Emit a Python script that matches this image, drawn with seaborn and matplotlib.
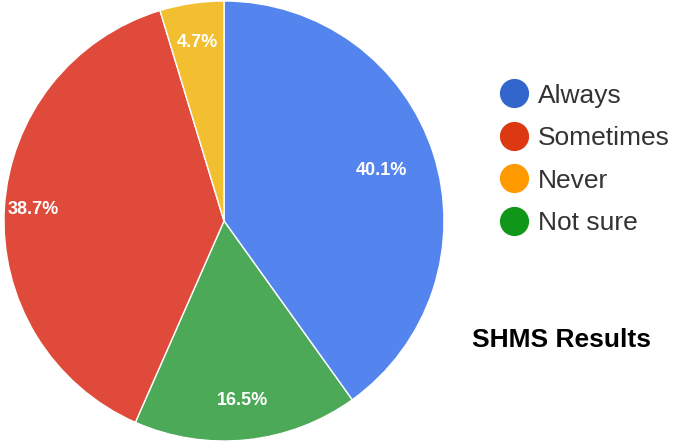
import numpy as np
import matplotlib
matplotlib.use("Agg")
import matplotlib.pyplot as plt
from matplotlib.lines import Line2D
import seaborn as sns

sns.set_theme(style="white")
plt.rcParams['font.family'] = ['Liberation Sans', 'DejaVu Sans']

# Data (clockwise from 12 o'clock)
slice_labels = ["Always", "Not sure", "Sometimes", "Never"]
slice_values = [40.1, 16.5, 38.7, 4.7]
slice_colors = ["#5484ED", "#4BA957", "#E04A3B", "#F1BF2F"]

legend_labels = ["Always", "Sometimes", "Never", "Not sure"]
legend_colors = ["#3366CC", "#DC3912", "#FF9900", "#109618"]

title_text = "SHMS Results"

# label radial distance per slice (style)
label_dist = [0.75, 0.82, 0.87, 0.82]

fig = plt.figure(figsize=(6.8, 4.42), dpi=100)
ax = fig.add_axes([4 / 680, 0.0, 440 / 680, 1.0])

wedges, texts, autotexts = ax.pie(
    slice_values, colors=slice_colors, startangle=90, counterclock=False,
    radius=1.0, autopct=lambda p: f"{p:.1f}%", pctdistance=0.8,
    wedgeprops=dict(edgecolor="white", linewidth=1.0),
    textprops=dict(color="white", fontsize=13, fontweight="bold"))

for w, t, d in zip(wedges, autotexts, label_dist):
    ang = np.deg2rad((w.theta1 + w.theta2) / 2)
    t.set_position((d * np.cos(ang), d * np.sin(ang)))
    t.set_ha("center")
    t.set_va("center")

ax.set_xlim(-1.0, 1.0)
ax.set_ylim(-1.0045, 1.0045)
ax.set_aspect("auto")
ax.axis("off")

handles = [Line2D([0], [0], marker="o", linestyle="none", markersize=20,
                  markerfacecolor=c, markeredgecolor=c) for c in legend_colors]
fig.legend(handles, legend_labels, loc="upper left",
           bbox_to_anchor=(484 / 680, 1 - 73 / 442), frameon=False,
           fontsize=19, labelcolor="#333333", handletextpad=0.15,
           labelspacing=0.7, handlelength=1.5, borderaxespad=0)

fig.text(562 / 680, 1 - 340 / 442, title_text, ha="center", va="center",
         fontsize=19, fontweight="bold", color="black")

fig.savefig("out.png", dpi=100, facecolor="white")
